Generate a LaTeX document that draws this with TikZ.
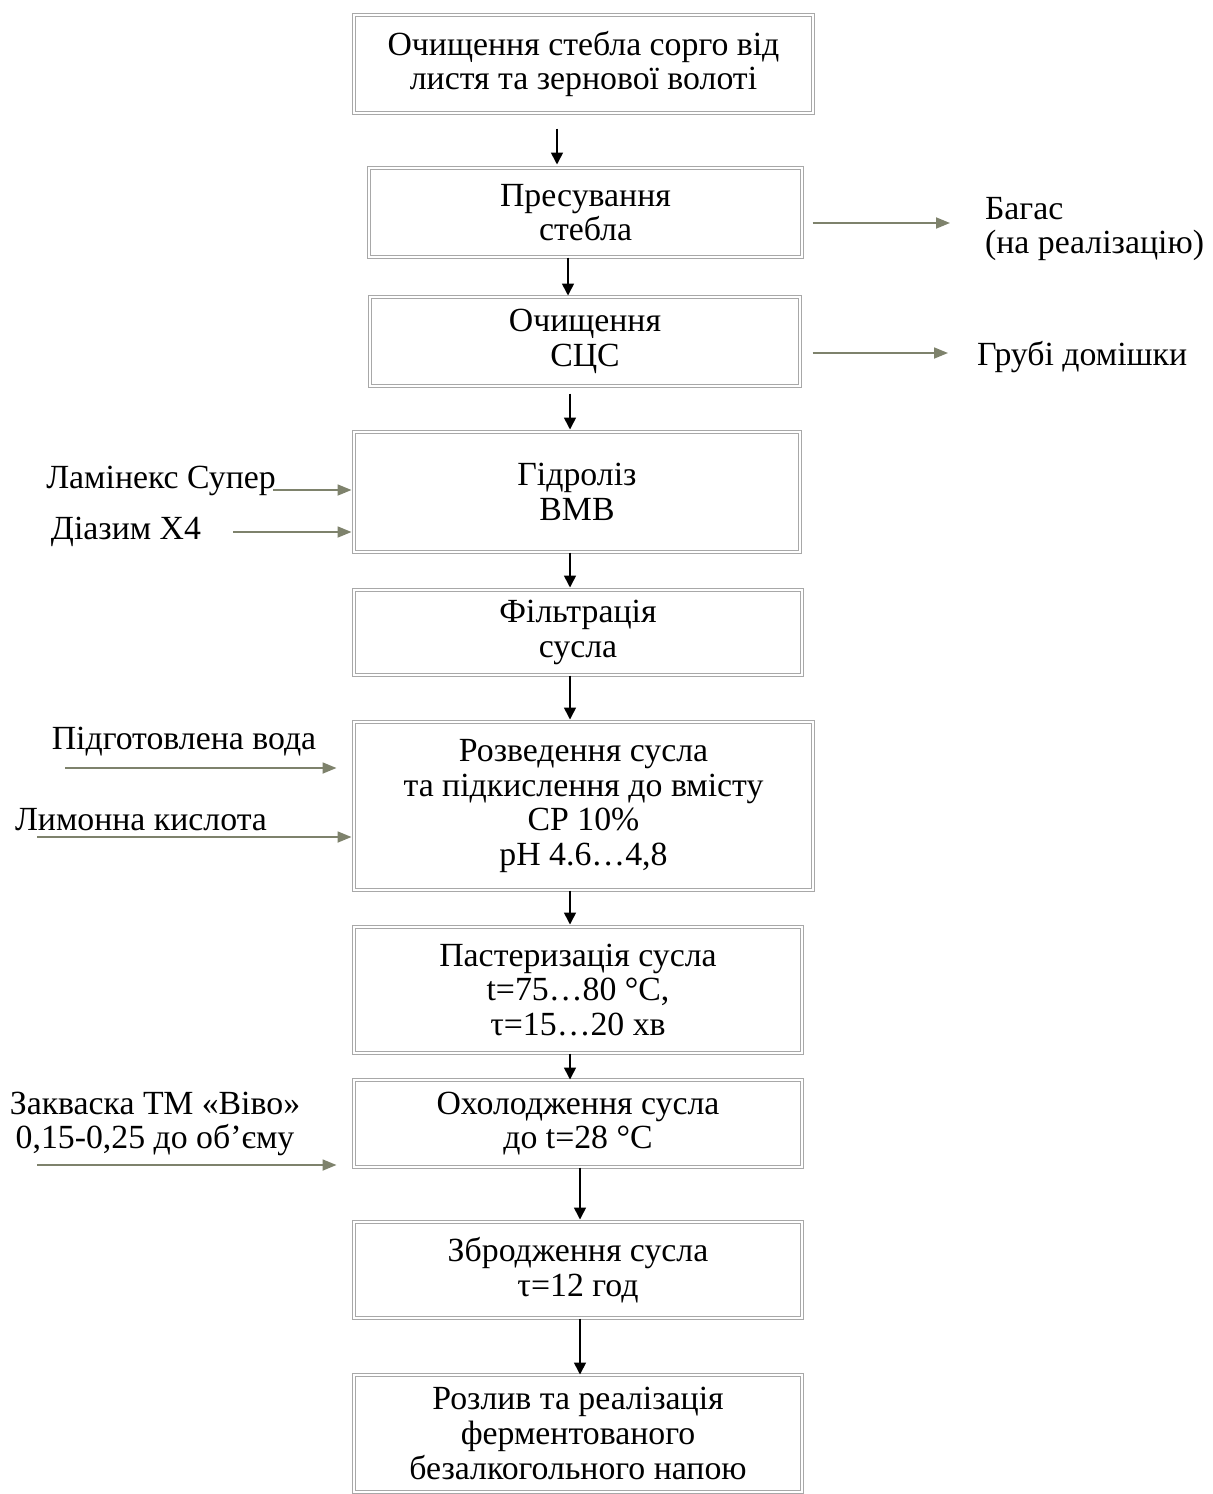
\documentclass[tikz,border=0pt]{standalone}
\usepackage{fontspec}
\setmainfont{Liberation Serif}
\usepackage{tikz}
\usetikzlibrary{arrows.meta, positioning}
\definecolor{boxgray}{RGB}{168,168,168}
\definecolor{sideolive}{RGB}{126,130,108}

\begin{document}
\begin{tikzpicture}[x=0.5pt,y=-0.5pt,>={Triangle[length=6pt,width=6pt]},
            font=\fontsize{16.9}{17.4}\selectfont,
            box/.style={draw=boxgray, double=white, double distance=1.2pt,
                        line width=0.5pt, align=center, inner sep=0pt},
            flow/.style={->, line width=0.8pt},
            side/.style={-{Triangle[length=7pt,width=5.5pt]}, line width=0.9pt, draw=sideolive}]
            \useasboundingbox (0,0) rectangle (1213,1494);

            % Define the process steps
            \node[box, minimum width=229.5pt, minimum height=49pt] (B1) at (583.5,64)
                {Очищення стебла сорго від\\листя та зернової волоті};
            \node[box, minimum width=216.5pt, minimum height=44.5pt] (B2) at (585.5,212.5)
                {Пресування\\стебла};
            \node[box, minimum width=215pt, minimum height=44.5pt] (B3) at (585,341.5)
                {Очищення\\СЦС};
            \node[box, minimum width=223pt, minimum height=60pt] (B4) at (577,492)
                {Гідроліз\\ВМВ};
            \node[box, minimum width=224pt, minimum height=42.5pt] (B5) at (578,632.5)
                {Фільтрація\\сусла};
            \node[box, minimum width=229.5pt, minimum height=84pt] (B6) at (583.5,806)
                {Розведення сусла\\та підкислення до вмісту\\СР 10\%\\pH 4.6…4,8};
            \node[box, minimum width=224pt, minimum height=63pt] (B7) at (578,990)
                {Пастеризація сусла\\t=75…80 °C,\\τ=15…20 хв};
            \node[box, minimum width=224pt, minimum height=43.5pt] (B8) at (578,1123.5)
                {Охолодження сусла\\до t=28 °C};
            \node[box, minimum width=224pt, minimum height=48pt] (B9) at (578,1270)
                {Збродження сусла\\τ=12 год};
            \node[box, minimum width=224pt, minimum height=58.5pt] (B10) at (578,1433.5)
                {Розлив та реалізація\\ферментованого\\безалкогольного напою};

            % Inputs and outputs
            \node[anchor=west, align=left] (bagas) at (978,229) {Багас\\(на реалізацію)};
            \node[anchor=west] (hrubi) at (970,357) {Грубі домішки};
            \node (laminex) at (161,481) {Ламінекс Супер};
            \node (diazym) at (126,532) {Діазим X4};
            \node (voda) at (184,742) {Підготовлена вода};
            \node (kyslota) at (141,820) {Лимонна кислота};
            \node[align=center] (zakvaska) at (155,1124) {Закваска ТМ «Віво»\\0,15-0,25 до об’єму};

            % Connect the steps
            \draw[flow] ([xshift=-13.25pt,yshift=-7.5pt]B1.south) -- ([xshift=-14.25pt,yshift=1.5pt]B2.north);
            \draw[flow] ([xshift=-8.75pt]B2.south) -- ([xshift=-8.5pt,yshift=0.5pt]B3.north);
            \draw[flow] ([xshift=-7.5pt,yshift=-3.5pt]B3.south) -- ([xshift=-3.5pt,yshift=1pt]B4.north);
            \draw[flow] ([xshift=-3.5pt]B4.south) -- ([xshift=-4pt,yshift=1pt]B5.north);
            \draw[flow] ([xshift=-4pt]B5.south) -- ([xshift=-6.75pt,yshift=1pt]B6.north);
            \draw[flow] ([xshift=-6.75pt]B6.south) -- ([xshift=-4pt,yshift=1pt]B7.north);
            \draw[flow] ([xshift=-4pt]B7.south) -- ([xshift=-4pt]B8.north);
            \draw[flow] ([xshift=1pt]B8.south) -- ([xshift=1pt,yshift=1pt]B9.north);
            \draw[flow] ([xshift=1pt]B9.south) -- ([xshift=1pt]B10.north);

            % Side streams
            \draw[side] ([xshift=5pt,yshift=-5.25pt]B2.east) -- ([xshift=-14pt,yshift=3pt]bagas.west);
            \draw[side] ([xshift=6pt,yshift=-5.75pt]B3.east) -- ([xshift=-11pt,yshift=2pt]hrubi.west);
            \draw[side] ([xshift=56pt,yshift=-4.5pt]laminex.center) -- ([xshift=-1pt,yshift=1pt]B4.west);
            \draw[side] ([xshift=53.5pt]diazym.center) -- ([xshift=-1pt,yshift=-20pt]B4.west);
            \draw[side] ([xshift=-59.5pt,yshift=-13pt]voda.center) -- ([xshift=-8.5pt,yshift=19pt]B6.west);
            \draw[side] ([xshift=-52pt,yshift=-8.5pt]kyslota.center) -- ([xshift=-1pt,yshift=-15.5pt]B6.west);
            \draw[side] ([xshift=-59pt,yshift=-20.5pt]zakvaska.center) -- ([xshift=-8.5pt,yshift=-20.75pt]B8.west);

\end{tikzpicture}
\end{document}
